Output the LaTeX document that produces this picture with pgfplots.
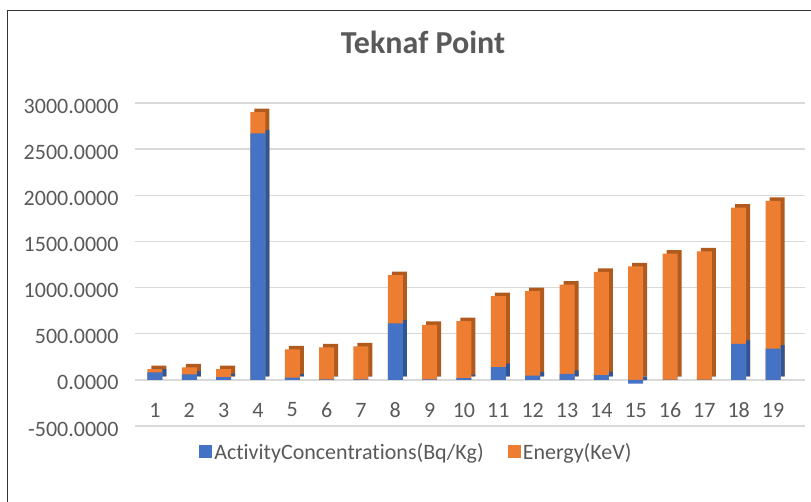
\documentclass[border=0pt]{standalone}
\usepackage{pgfplots}
\pgfplotsset{compat=1.18}
\usepackage{pgfplotstable}
\usepackage{fontspec}
\setmainfont{Carlito}[Ligatures=NoCommon]
\definecolor{actblue}{HTML}{4472C4}
\definecolor{actside}{HTML}{2F5597}
\definecolor{energy}{HTML}{ED7D31}
\definecolor{energyside}{HTML}{B05A1E}
\definecolor{txt}{HTML}{595959}
\definecolor{gridc}{HTML}{D9D9D9}

% act = ActivityConcentrations, top = top of the stacked column
\pgfplotstableread{
pt act top
1 80 115
2 60 135
3 30 115
4 2670 2900
5 25 330
6 5 352
7 5 362
8 612 1134
9 5 596
10 18 637
11 137 907
12 47 961
13 65 1033
14 50 1170
15 -40 1231
16 3 1368
17 3 1393
18 389 1865
19 338 1940
}\teknaf

\begin{document}
\begin{tikzpicture}
\useasboundingbox (0pt,0pt) rectangle (811pt,501pt);
\draw[line width=1pt, black!80] (7pt,-2pt) -- (7pt,490pt) -- (813pt,490pt);
\node[font=\bfseries\fontsize{32}{36}\selectfont, text=txt] at (423pt,459pt) {Teknaf Point};
\begin{axis}[
    at={(135pt,75pt)}, anchor=south west,
    width=670pt, height=323pt, scale only axis,
    xmin=0.42, xmax=19.93, ymin=-500, ymax=3000,
    ytick={-500,0,...,3000},
    xtick={1,...,19},
    ybar, bar width=15pt,
    ymajorgrids, grid style={draw=gridc, line width=1.3pt},
    axis line style={draw=none}, major tick length=0pt,
    ticklabel style={font=\fontsize{22}{25}\selectfont, text=txt},
    yticklabel={\pgfmathprintnumber[fixed, fixed zerofill, precision=4, 1000 sep={}, assume math mode=true]{\tick}},
    xticklabel={\pgfmathprintnumber[assume math mode=true]{\tick}},
    yticklabel style={xshift=-13pt, yshift=-3pt},
    xticklabel style={anchor=center, yshift=16pt},
    legend image code/.code={\fill[#1] (0pt,-6.5pt) rectangle (13pt,6.5pt);},
    reverse legend,
    legend columns=2,
    legend style={at={(0.42,-0.08)}, anchor=center, draw=none, fill=none,
        font=\fontsize{22}{25}\selectfont, text=txt,
        /tikz/every even column/.append style={column sep=22pt}},
]
\addplot[fill=energyside, draw=none, bar shift=4pt, yshift=3.5pt, forget plot] table[x=pt, y=top] {\teknaf};
\addplot[fill=actside, draw=none, bar shift=4pt, yshift=3.5pt, forget plot] table[x=pt, y=act] {\teknaf};
\addplot[fill=energy, draw=none, bar shift=0pt] table[x=pt, y=top] {\teknaf};
\addplot[fill=actblue, draw=none, bar shift=0pt] table[x=pt, y=act] {\teknaf};
\legend{Energy(KeV), ActivityConcentrations(Bq/Kg)}
\end{axis}
\end{tikzpicture}
\end{document}
